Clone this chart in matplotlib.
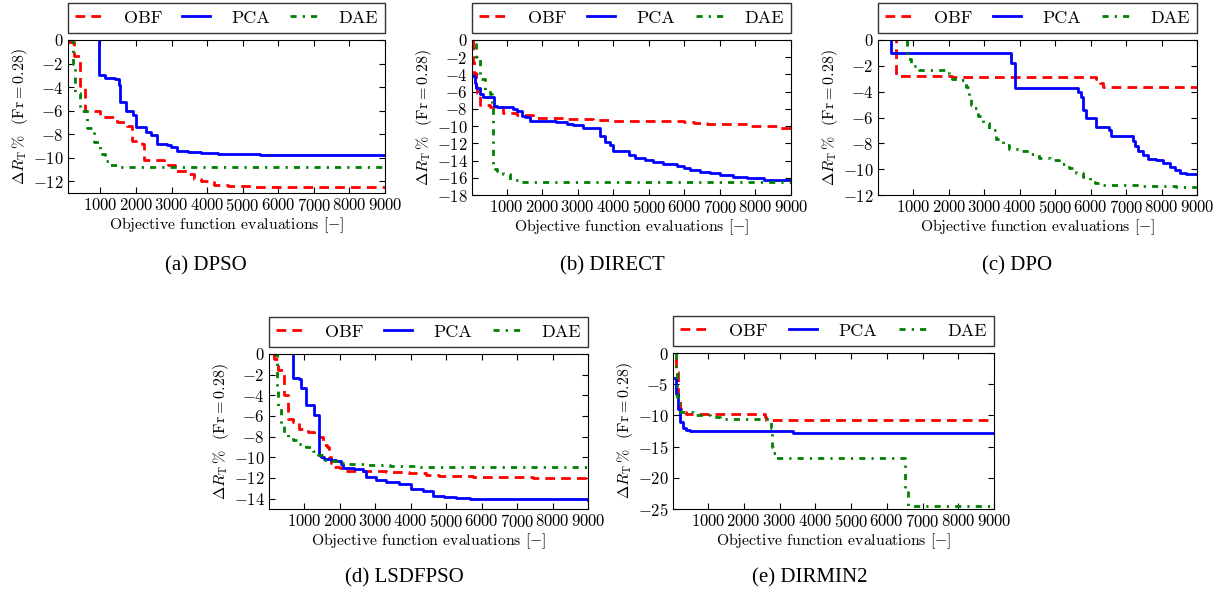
import matplotlib
matplotlib.use("Agg")
import matplotlib.pyplot as plt

plt.rcParams['font.family'] = ['cmr10', 'DejaVu Serif']
plt.rcParams['mathtext.fontset'] = 'cm'
plt.rcParams['axes.formatter.use_mathtext'] = True
plt.rcParams['axes.unicode_minus'] = True

methods = ['OBF', 'PCA', 'DAE']
captions = ['(a) DPSO', '(b) DIRECT', '(c) DPO', '(d) LSDFPSO', '(e) DIRMIN2']

# (a) DPSO
a_obf_x = [90, 230, 250, 435, 575, 1000, 1470, 1750, 1900, 2180, 2220, 2800, 2900, 3100, 3450, 3640, 3820, 4200, 4580, 5240, 9000]
a_obf_y = [-0.2, -0.2, -1.4, -3.9, -6.0, -6.5, -7.0, -7.3, -8.6, -8.8, -10.2, -10.4, -10.6, -11.1, -11.4, -11.8, -12.0, -12.3, -12.4, -12.5, -12.5]
a_pca_x = [906, 960, 1140, 1420, 1520, 1560, 1730, 1920, 1990, 2270, 2410, 2600, 2880, 2980, 3160, 3450, 3820, 4300, 4760, 5500, 9000]
a_pca_y = [0.5, -3.0, -3.2, -3.3, -3.8, -5.3, -6.0, -6.4, -7.4, -7.8, -8.1, -8.8, -8.9, -9.1, -9.4, -9.5, -9.6, -9.65, -9.7, -9.75, -9.8]
a_dae_x = [170, 225, 290, 435, 620, 810, 1000, 1140, 1280, 1470, 9000]
a_dae_y = [0.0, -2.0, -4.5, -6.0, -7.5, -8.7, -9.7, -10.3, -10.6, -10.8, -10.85]

# (b) DIRECT
b_obf_x = [40, 60, 80, 135, 175, 250, 530, 900, 1280, 1750, 2030, 2690, 3440, 4000, 5980, 6260, 6630, 7290, 7850, 8600, 9000]
b_obf_y = [0.0, -2.5, -3.8, -5.5, -6.2, -7.6, -7.8, -8.5, -8.7, -9.0, -9.1, -9.2, -9.3, -9.4, -9.5, -9.6, -9.7, -9.8, -10.0, -10.2, -10.2]
b_pca_x = [40, 110, 150, 250, 340, 640, 720, 1190, 1280, 1420, 1520, 1660, 1850, 2400, 2690, 2880, 3160, 3630, 3770, 3910, 4000,
           4430, 4620, 4900, 5130, 5410, 5790, 5980, 6160, 6450, 6730, 7010, 7380, 7760, 8230, 8800, 9000]
b_pca_y = [-4.2, -5.0, -5.6, -6.3, -6.6, -7.7, -7.8, -8.0, -8.3, -8.8, -8.9, -9.4, -9.4, -9.5, -9.7, -9.9, -10.2, -11.2, -11.8, -12.2, -12.9,
           -13.3, -13.7, -13.9, -14.2, -14.4, -14.6, -14.9, -15.1, -15.3, -15.5, -15.7, -15.9, -16.0, -16.2, -16.25, -16.25]
b_dae_x = [110, 150, 250, 390, 530, 600, 625, 720, 900, 1090, 1380, 9000]
b_dae_y = [-0.5, -2.0, -4.5, -5.8, -6.3, -7.5, -15.0, -15.2, -15.6, -16.2, -16.45, -16.5]

# (c) DPO
c_obf_x = [480, 520, 2100, 6150, 6250, 6340, 6420, 9000]
c_obf_y = [0.5, -2.8, -2.9, -3.0, -3.3, -3.6, -3.6, -3.6]
c_pca_x = [360, 380, 3750, 3770, 3870, 5640, 5730, 5780, 5810, 5870, 6140, 6530, 6580, 6630, 7190, 7240, 7330, 7480, 7620, 7850,
           8040, 8230, 8370, 8510, 8700, 9000]
c_pca_y = [0.5, -1.0, -1.8, -1.8, -3.7, -4.0, -4.4, -5.4, -5.4, -6.0, -6.7, -7.0, -7.4, -7.4, -7.8, -8.2, -8.6, -8.9, -9.2, -9.3,
           -9.5, -9.8, -10.1, -10.3, -10.4, -10.4]
c_dae_x = [810, 830, 925, 1160, 2000, 2100, 2240, 2480, 2570, 2620, 2670, 2810, 2950, 3140, 3330, 3520, 3710, 3990, 4270, 4550,
           4840, 5120, 5400, 5590, 5780, 5970, 6110, 6250, 7470, 8420, 9000]
c_dae_y = [0.0, -1.5, -2.0, -2.3, -2.6, -3.0, -3.1, -3.6, -4.5, -5.0, -5.3, -5.9, -6.4, -7.0, -7.7, -8.1, -8.4, -8.6, -8.8, -9.1,
           -9.3, -9.6, -9.9, -10.3, -10.6, -11.0, -11.1, -11.2, -11.3, -11.35, -11.35]

# (d) LSDFPSO
d_obf_x = [105, 150, 250, 435, 530, 670, 860, 1090, 1280, 1420, 1520, 1630, 1690, 1750, 1800, 1990, 2080, 2180, 2740, 3300, 3960,
           4440, 4810, 5750, 7450, 9000]
d_obf_y = [0.0, -0.5, -1.5, -4.0, -6.3, -6.6, -7.3, -7.5, -7.9, -8.0, -8.8, -9.0, -10.0, -10.5, -10.9, -11.0, -11.1, -11.3, -11.3,
           -11.4, -11.5, -11.7, -11.8, -11.9, -12.0, -12.0]
d_pca_x = [650, 690, 860, 910, 1030, 1050, 1260, 1400, 1470, 1560, 1750, 1890, 2040, 2080, 2410, 2650, 2740, 3020, 3310, 3680, 4010,
           4340, 4620, 4950, 5280, 5660, 6500, 9000]
d_pca_y = [0.5, -2.3, -2.4, -3.3, -3.4, -4.9, -5.9, -9.8, -10.0, -10.2, -10.3, -10.4, -10.6, -11.0, -11.1, -11.3, -11.9, -12.2,
           -12.4, -12.6, -13.1, -13.3, -13.7, -13.8, -13.9, -14.0, -14.05, -14.1]
d_dae_x = [150, 220, 235, 250, 340, 410, 530, 670, 860, 1050, 1240, 1380, 1520, 1710, 1990, 2270, 2740, 3400, 4150, 9000]
d_dae_y = [0.0, -1.5, -3.3, -5.0, -7.0, -7.6, -8.0, -8.3, -8.7, -9.0, -9.4, -9.8, -10.3, -10.4, -10.5, -10.6, -10.7, -10.8, -10.9, -10.9]

# (e) DIRMIN2
e_obf_x = [70, 115, 160, 210, 300, 395, 2590, 2630, 2720, 9000]
e_obf_y = [-1.0, -3.0, -7.0, -9.0, -9.5, -9.8, -10.3, -10.8, -10.8, -10.8]
e_pca_x = [70, 115, 160, 210, 300, 395, 490, 3380, 3470, 9000]
e_pca_y = [-4.0, -6.5, -9.0, -11.0, -12.0, -12.3, -12.5, -12.8, -12.9, -12.9]
e_dae_x = [95, 115, 140, 210, 580, 1050, 1330, 2770, 2790, 2820, 2910, 3050, 6500, 6600, 6640, 9000]
e_dae_y = [0.0, -3.0, -7.0, -9.5, -10.0, -10.3, -10.5, -12.0, -15.0, -16.0, -16.8, -16.8, -22.0, -24.5, -24.5, -24.5]

panels = [
    [(a_obf_x, a_obf_y), (a_pca_x, a_pca_y), (a_dae_x, a_dae_y)],
    [(b_obf_x, b_obf_y), (b_pca_x, b_pca_y), (b_dae_x, b_dae_y)],
    [(c_obf_x, c_obf_y), (c_pca_x, c_pca_y), (c_dae_x, c_dae_y)],
    [(d_obf_x, d_obf_y), (d_pca_x, d_pca_y), (d_dae_x, d_dae_y)],
    [(e_obf_x, e_obf_y), (e_pca_x, e_pca_y), (e_dae_x, e_dae_y)],
]
x_min = [90, 25, 0, 0, 20]
y_min = [-13, -18, -12, -15, -25]
y_step = [2, 2, 2, 2, 5]

# axes boxes in pixels: left, top, right, bottom
W, H = 1226, 598
boxes = [(68, 40, 385, 193), (472, 40, 791, 195), (878, 40, 1197, 195),
         (269, 354, 588, 509), (673, 353, 994, 509)]
caption_pos = [(206, 266), (612, 266), (1017, 266), (404, 578), (810, 578)]

colors = ['#ff0000', '#0000ff', '#008000']
styles = [(0, (3.5, 2.2)), '-', (0, (2.2, 2.2, 0.8, 2.2))]

fig = plt.figure(figsize=(W / 100, H / 100), dpi=100)

for i, data in enumerate(panels):
    l, t, r, b = boxes[i]
    ax = fig.add_axes([l / W, 1 - b / H, (r - l) / W, (b - t) / H])
    for (xs, ys), name, c, ls in zip(data, methods, colors, styles):
        ax.step(xs, ys, where='post', color=c, linestyle=ls, lw=2, label=name)
    ax.set_xlim(x_min[i], 9000)
    ax.set_ylim(y_min[i], 0)
    ax.set_xticks(range(1000, 9001, 1000))
    ax.set_yticks(range(0, y_min[i] - 1, -y_step[i]))
    ax.tick_params(direction='in', top=True, right=True, labelsize=12, length=4, pad=3)
    ax.set_xlabel(r'Objective function evaluations $[-]$', fontsize=11.3, labelpad=1)
    ax.set_ylabel(r'$\Delta R_{\rm T}\,\%$  (Fr$=$0.28)', fontsize=11.5, labelpad=2)
    h = b - t
    leg = ax.legend(loc='lower left', bbox_to_anchor=(0, 1 + 7 / h, 1, 30 / h), mode='expand',
                    ncol=3, fontsize=13, frameon=True, fancybox=False, borderaxespad=0,
                    handlelength=1.55, handletextpad=1.15, columnspacing=0.8)
    leg.get_frame().set_edgecolor('black')
    leg.get_frame().set_linewidth(1.0)
    cx, cy = caption_pos[i]
    fig.text(cx / W, 1 - cy / H, captions[i], ha='center', va='center', fontsize=15,
             family='Liberation Serif')

fig.savefig('out.png', dpi=100)
